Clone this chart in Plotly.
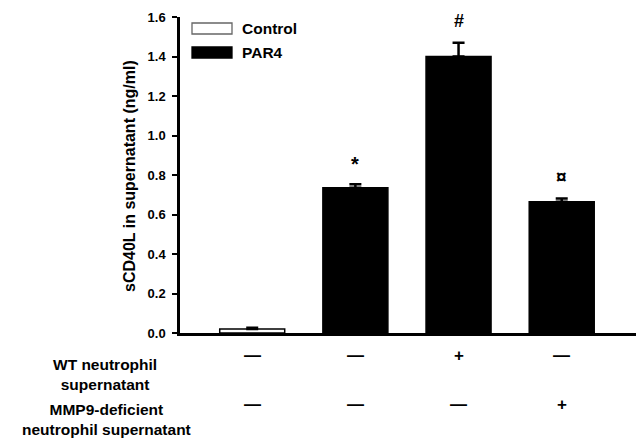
import plotly.graph_objects as go

categories = ["Control", "PAR4", "PAR4 + WT", "PAR4 + MMP9-/-"]
values = [0.02, 0.735, 1.40, 0.665]
errors = [0.006, 0.018, 0.07, 0.016]
fills = ["white", "black", "black", "black"]
marks = ["", "*", "#", "¤"]
wt_row = ["—", "—", "+", "—"]
mmp9_row = ["—", "—", "—", "+"]
y_ticks = [0.0, 0.2, 0.4, 0.6, 0.8, 1.0, 1.2, 1.4, 1.6]

FONT = "Liberation Sans, Arial, sans-serif"
xs = list(range(len(categories)))

# plot-area geometry in pixels (for converting layout positions)
L, R, T, B = 180, 636, 17, 333


def px_x(p):
    return (p - L) / (R - L)


def px_y(p):
    return (B - p) / (B - T)


fig = go.Figure()
fig.add_trace(go.Bar(
    x=xs, y=values, width=0.63,
    marker=dict(color=fills, line=dict(color="black", width=1.5)),
    error_y=dict(type="data", array=errors, arrayminus=[0] * 4, symmetric=False,
                 color="black", thickness=2.5, width=6),
    showlegend=False,
))

annotations = []
mark_shift = [0, 20, 22, 22]
mark_size = [0, 20, 18, 19]
for i in xs:
    if marks[i]:
        annotations.append(dict(x=i, y=values[i] + errors[i], yshift=mark_shift[i], text="<b>%s</b>" % marks[i],
                                showarrow=False, font=dict(size=mark_size[i], family=FONT, color="black")))
    annotations.append(dict(x=i, xref="x", y=px_y(367), yref="paper", text="<b>%s</b>" % wt_row[i],
                            showarrow=False, font=dict(size=17, family=FONT, color="black")))
    annotations.append(dict(x=i, xref="x", y=px_y(416), yref="paper", text="<b>%s</b>" % mmp9_row[i],
                            showarrow=False, font=dict(size=17, family=FONT, color="black")))

annotations.append(dict(x=px_x(105), xref="paper", y=px_y(374), yref="paper", xanchor="center", yanchor="middle",
                        text="<b>WT neutrophil<br>supernatant</b>",
                        showarrow=False, font=dict(size=15.5, family=FONT, color="black")))
annotations.append(dict(x=px_x(106), xref="paper", y=px_y(419), yref="paper", xanchor="center", yanchor="middle",
                        text="<b>MMP9-deficient<br>neutrophil supernatant</b>",
                        showarrow=False, font=dict(size=15.5, family=FONT, color="black")))

# y-axis title
annotations.append(dict(x=px_x(129), xref="paper", y=px_y(176), yref="paper", textangle=-90,
                        xanchor="center", yanchor="middle",
                        text="<b>sCD40L in supernatant (ng/ml)</b>",
                        showarrow=False, font=dict(size=16, family=FONT, color="black")))

# legend
legend_items = [("Control", "white", 23, 34), ("PAR4", "black", 47, 58)]
shapes = []
for name, col, top, bot in legend_items:
    shapes.append(dict(type="rect", xref="paper", yref="paper", x0=px_x(192), x1=px_x(232),
                       y0=px_y(bot), y1=px_y(top), fillcolor=col,
                       line=dict(color="#666" if col == "white" else "black", width=1.3)))
    annotations.append(dict(x=px_x(240), y=px_y((top + bot) / 2), xref="paper", yref="paper",
                            xanchor="left", yanchor="middle", text="<b>%s</b>" % name,
                            showarrow=False, font=dict(size=15.5, family=FONT, color="black")))

fig.update_layout(
    width=636, height=440,
    margin=dict(l=L, r=636 - R, t=T, b=440 - B, pad=0),
    plot_bgcolor="white", paper_bgcolor="white",
    font=dict(family=FONT, color="black"),
    annotations=annotations,
    shapes=shapes,
    xaxis=dict(range=[-0.7, 3.72], showticklabels=False, ticks="", showgrid=False,
               showline=True, linecolor="black", linewidth=2.5, zeroline=False, fixedrange=True),
    yaxis=dict(range=[0, 1.6], tickvals=y_ticks, ticktext=["<b>%.1f</b>" % v for v in y_ticks],
               ticks="outside", ticklen=5, tickwidth=2, tickcolor="black", ticklabelstandoff=4,
               showline=True, linecolor="black", linewidth=2.5, showgrid=False, zeroline=False,
               tickfont=dict(size=13, family=FONT, color="black"), fixedrange=True),
)

fig.write_html("out.html", config={"displayModeBar": False},
               post_script="document.body.style.margin='0';document.body.style.overflow='hidden';")
